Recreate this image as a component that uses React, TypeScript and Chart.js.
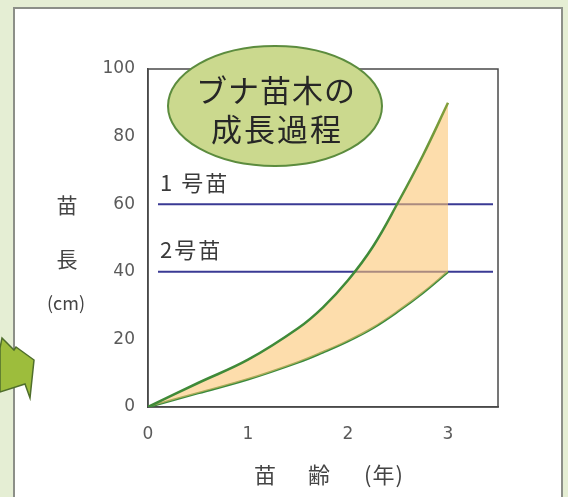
import React, { useEffect, useRef } from "react";
import { Chart, registerables } from "chart.js";

Chart.register(...registerables);

// ---- data ----
const ages = [0, 0.5, 1, 1.5, 1.75, 2, 2.25, 2.5, 2.75, 3];
const upperHeights = [0, 7.1, 14, 23.3, 29.5, 37.5, 47.5, 60.5, 74.5, 90];
const lowerHeights = [0, 4.1, 8.2, 13.2, 16.2, 19.5, 23.4, 28.3, 33.8, 40];
const gradeLevels = [60, 40];
const gradeLabels = ["1 号苗", "2号苗"];
const gradeLineRange = [0.1, 3.45];
const xTicks = [0, 1, 2, 3];
const yTicks = [0, 20, 40, 60, 80, 100];
const titleLines = ["ブナ苗木の", "成長過程"];
const yTitle = ["苗", "長", "(cm)"];
const xTitle = ["苗", "齢", "(年)"];

const JP = '"Noto Sans CJK JP", "Noto Sans", sans-serif';
const NUM = '"DejaVu Sans", sans-serif';

const decor = {
  id: "decor",
  beforeDraw(chart: any) {
    const { ctx, width, height } = chart;
    ctx.save();
    ctx.fillStyle = "#e5eed4";
    ctx.fillRect(0, 0, width, height);
    ctx.fillStyle = "#ffffff";
    ctx.fillRect(14, 8, 548, height);
    ctx.strokeStyle = "#8c8f88";
    ctx.lineWidth = 2;
    ctx.strokeRect(14, 8, 548, height + 10);
    // arrow at the left edge
    ctx.beginPath();
    ctx.moveTo(0, 348);
    ctx.lineTo(2, 338);
    ctx.lineTo(14, 350);
    ctx.lineTo(16, 347);
    ctx.lineTo(34, 360);
    ctx.lineTo(30, 398);
    ctx.lineTo(25, 384);
    ctx.lineTo(0, 392);
    ctx.closePath();
    ctx.fillStyle = "#9dbd3c";
    ctx.fill();
    ctx.strokeStyle = "#4f6e2c";
    ctx.lineWidth = 1.5;
    ctx.stroke();
    ctx.restore();
  },
  beforeDatasetsDraw(chart: any) {
    const { ctx, chartArea: a } = chart;
    ctx.save();
    ctx.strokeStyle = "#4a4a4a";
    ctx.lineWidth = 1.5;
    ctx.strokeRect(a.left, a.top, a.right - a.left, a.bottom - a.top);
    ctx.restore();
  },
  afterDraw(chart: any) {
    const { ctx, chartArea: a, scales } = chart;
    const xs = scales.x;
    const ys = scales.y;
    ctx.save();
    // grade labels
    ctx.fillStyle = "#3a3a3a";
    ctx.font = `22px ${JP}`;
    ctx.textAlign = "left";
    ctx.textBaseline = "middle";
    (ctx as any).letterSpacing = "2px";
    gradeLevels.forEach((lv, i) => {
      ctx.fillText(gradeLabels[i], xs.getPixelForValue(0) + 12, ys.getPixelForValue(lv) - 22);
    });
    (ctx as any).letterSpacing = "0px";
    // y title
    ctx.fillStyle = "#444";
    ctx.textAlign = "center";
    const yx = a.left - 81;
    ctx.font = `21px ${JP}`;
    ctx.fillText(yTitle[0], yx, 205);
    ctx.fillText(yTitle[1], yx, 259);
    ctx.font = `18px ${JP}`;
    ctx.fillText(yTitle[2], yx - 1, 303);
    // x title
    const cx = (a.left + a.right) / 2;
    ctx.font = `22px ${JP}`;
    ctx.fillText(xTitle[0], cx - 58, 475);
    ctx.fillText(xTitle[1], cx - 4, 475);
    (ctx as any).letterSpacing = "1px";
    ctx.fillText(xTitle[2], cx + 61, 475);
    (ctx as any).letterSpacing = "0px";
    // ellipse title
    const ex = a.left + 127;
    const ey = a.top + 37;
    ctx.beginPath();
    ctx.ellipse(ex, ey, 107, 60, 0, 0, Math.PI * 2);
    ctx.fillStyle = "#cbd98e";
    ctx.fill();
    ctx.strokeStyle = "#5c8c3e";
    ctx.lineWidth = 2;
    ctx.stroke();
    ctx.fillStyle = "#262626";
    ctx.font = `31px ${JP}`;
    (ctx as any).letterSpacing = "1px";
    ctx.fillText(titleLines[0], ex + 1, ey - 16);
    (ctx as any).letterSpacing = "2px";
    ctx.fillText(titleLines[1], ex + 2, ey + 23);
    ctx.restore();
  },
};

export default function App() {
  const ref = useRef<HTMLCanvasElement | null>(null);
  useEffect(() => {
    if (!ref.current) return;
    const curveGradient = (dark: string, light: string) => (c: any) => {
      const { chart } = c;
      const a = chart.chartArea;
      if (!a) return dark;
      const g = chart.ctx.createLinearGradient(0, a.bottom, 0, a.top);
      g.addColorStop(0, dark);
      g.addColorStop(0.5, dark);
      g.addColorStop(1, light);
      return g;
    };
    const chart = new Chart(ref.current, {
      type: "line",
      data: {
        datasets: [
          {
            data: ages.map((x, i) => ({ x, y: upperHeights[i] })),
            borderColor: curveGradient("#3f8a38", "#94a43c"),
            borderWidth: 2.5,
            pointRadius: 0,
            tension: 0.4,
            fill: "+1",
            backgroundColor: "rgba(251,196,112,0.58)",
            order: 0,
          },
          {
            data: ages.map((x, i) => ({ x, y: lowerHeights[i] })),
            borderColor: curveGradient("#3a8a3c", "#5f9a3a"),
            borderWidth: 2.5,
            pointRadius: 0,
            tension: 0.4,
            fill: false,
            order: 1,
          },
          ...gradeLevels.map((lv) => ({
            data: gradeLineRange.map((x) => ({ x, y: lv })),
            borderColor: "#3a3a94",
            borderWidth: 2,
            pointRadius: 0,
            fill: false,
            order: 2,
          })),
        ],
      } as any,
      options: {
        animation: false,
        responsive: false,
        layout: { padding: { left: 88, right: 70, top: 69, bottom: 0 } },
        plugins: { legend: { display: false }, tooltip: { enabled: false } },
        scales: {
          x: {
            type: "linear",
            min: 0,
            max: 3.5,
            grid: { display: false, drawTicks: false },
            border: { display: true, color: "#4a4a4a", width: 1.5 },
            afterBuildTicks: (s: any) => {
              s.ticks = xTicks.map((v) => ({ value: v }));
            },
            afterFit: (s: any) => {
              s.height = 90;
            },
            ticks: {
              padding: 17,
              color: "#5a5a5a",
              font: { family: NUM, size: 17 },
              maxRotation: 0,
            },
          },
          y: {
            type: "linear",
            min: 0,
            max: 100,
            grid: { display: false, drawTicks: false },
            border: { display: true, color: "#4a4a4a", width: 1.5 },
            afterBuildTicks: (s: any) => {
              s.ticks = yTicks.map((v) => ({ value: v }));
            },
            afterFit: (s: any) => {
              s.width = 60;
            },
            ticks: {
              padding: 13,
              color: "#5a5a5a",
              font: { family: NUM, size: 17 },
            },
          },
        },
      },
      plugins: [decor],
    });
    return () => chart.destroy();
  }, []);
  return (
    <div style={{ position: "fixed", left: 0, top: 0, width: 568, height: 497 }}>
      <canvas ref={ref} width={568} height={497} style={{ display: "block" }} />
    </div>
  );
}
